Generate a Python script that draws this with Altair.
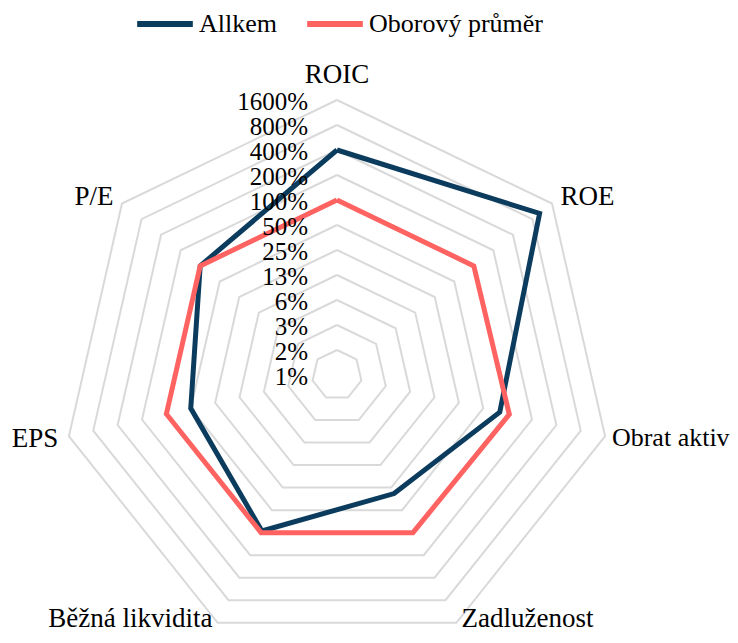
import altair as alt
import pandas as pd

# ---- data ----
categories = ["ROIC", "ROE", "Obrat aktiv", "Zadluženost", "Běžná likvidita", "EPS", "P/E"]
allkem = [400, 1030, 80, 30, 95, 50, 100]          # percent
industry = [100, 100, 105, 100, 100, 100, 100]      # percent
series_names = ["Allkem", "Oborový průměr"]
series_colors = ["#0b3c5d", "#ff6361"]
tick_values = [0.78125, 1.5625, 3.125, 6.25, 12.5, 25, 50, 100, 200, 400, 800, 1600]
tick_labels = ["1%", "2%", "3%", "6%", "13%", "25%", "50%", "100%", "200%", "400%", "800%", "1600%"]

# ---- layout constants ----
W, H = 722, 627
CX, CY = 329, 367
STEP = 25.0
BASE = tick_values[0]
N = len(categories)
FONT = "Liberation Serif"

rows = []
for s, vals in zip(series_names, [allkem, industry]):
    for i in range(N + 1):
        k = i % N
        rows.append({"series": s, "cat": categories[k], "idx": k, "ord": i, "value": vals[k]})
series_df = pd.DataFrame(rows)

ring_rows = []
for v in tick_values[1:]:
    for i in range(N + 1):
        ring_rows.append({"ring": v, "idx": i % N, "ord": i, "value": v})
ring_df = pd.DataFrame(ring_rows)

tick_df = pd.DataFrame({"value": tick_values, "label": tick_labels})
cat_df = pd.DataFrame({"cat": categories, "idx": list(range(N))})

xs = alt.Scale(domain=[-CX, W - CX], nice=False, zero=False)
ys = alt.Scale(domain=[-(H - CY), CY], nice=False, zero=False)

radius_expr = f"{STEP} * log(datum.value / {BASE}) / log(2)"
ang_expr = f"datum.idx * 2 * PI / {N}"


def polar(chart, r_expr=radius_expr):
    return chart.transform_calculate(
        r=r_expr, ang=ang_expr
    ).transform_calculate(
        px="datum.r * sin(datum.ang)", py="datum.r * cos(datum.ang)"
    )


X = alt.X("px:Q", scale=xs, axis=None)
Y = alt.Y("py:Q", scale=ys, axis=None)

rings = polar(alt.Chart(ring_df)).mark_line(color="#d9d9d9", strokeWidth=2).encode(
    x=X, y=Y, detail="ring:N", order="ord:Q"
)

lines = polar(alt.Chart(series_df)).mark_line(strokeWidth=5, strokeJoin="miter").encode(
    x=X, y=Y, order="ord:Q",
    color=alt.Color(
        "series:N",
        scale=alt.Scale(domain=series_names, range=series_colors),
        legend=alt.Legend(
            title=None, orient="none", direction="horizontal",
            legendX=126, legendY=-15,
            symbolType="stroke", symbolStrokeWidth=6, symbolSize=3100,
            labelFont=FONT, labelFontSize=26, labelColor="black", labelLimit=0,
            columnPadding=18, labelOffset=3, padding=0,
        ),
    ),
)

ticks = alt.Chart(tick_df).transform_calculate(
    py=radius_expr, px="-29"
).mark_text(align="right", baseline="middle", font=FONT, fontSize=25, color="black", dy=2).encode(
    x=X, y=Y, text="label:N"
)


def cat_layer(filt, align, r, baseline="middle", size=27, dx=0):
    return polar(alt.Chart(cat_df).transform_filter(filt), r_expr=str(r)).mark_text(
        align=align, baseline=baseline, font=FONT, fontSize=size, color="black", dx=dx
    ).encode(x=X, y=Y, text="cat:N")


lab_top = cat_layer("datum.idx == 0", "center", 300)
lab_roe = cat_layer("datum.idx == 1", "left", 286)
lab_obrat = cat_layer("datum.idx == 2", "left", 282, size=26)
lab_zad = cat_layer("datum.idx == 3", "left", 280, baseline="alphabetic", dx=3)
lab_bez = cat_layer("datum.idx == 4", "right", 280, baseline="alphabetic", dx=-3)
lab_left = cat_layer("datum.idx >= 5", "right", 286)

chart = alt.layer(
    rings, lines, ticks, lab_top, lab_roe, lab_obrat, lab_zad, lab_bez, lab_left
).properties(
    width=W, height=H, autosize="none", padding=0
).configure_view(stroke=None)

chart.save("out.html", embed_options={"renderer": "svg", "actions": False})
